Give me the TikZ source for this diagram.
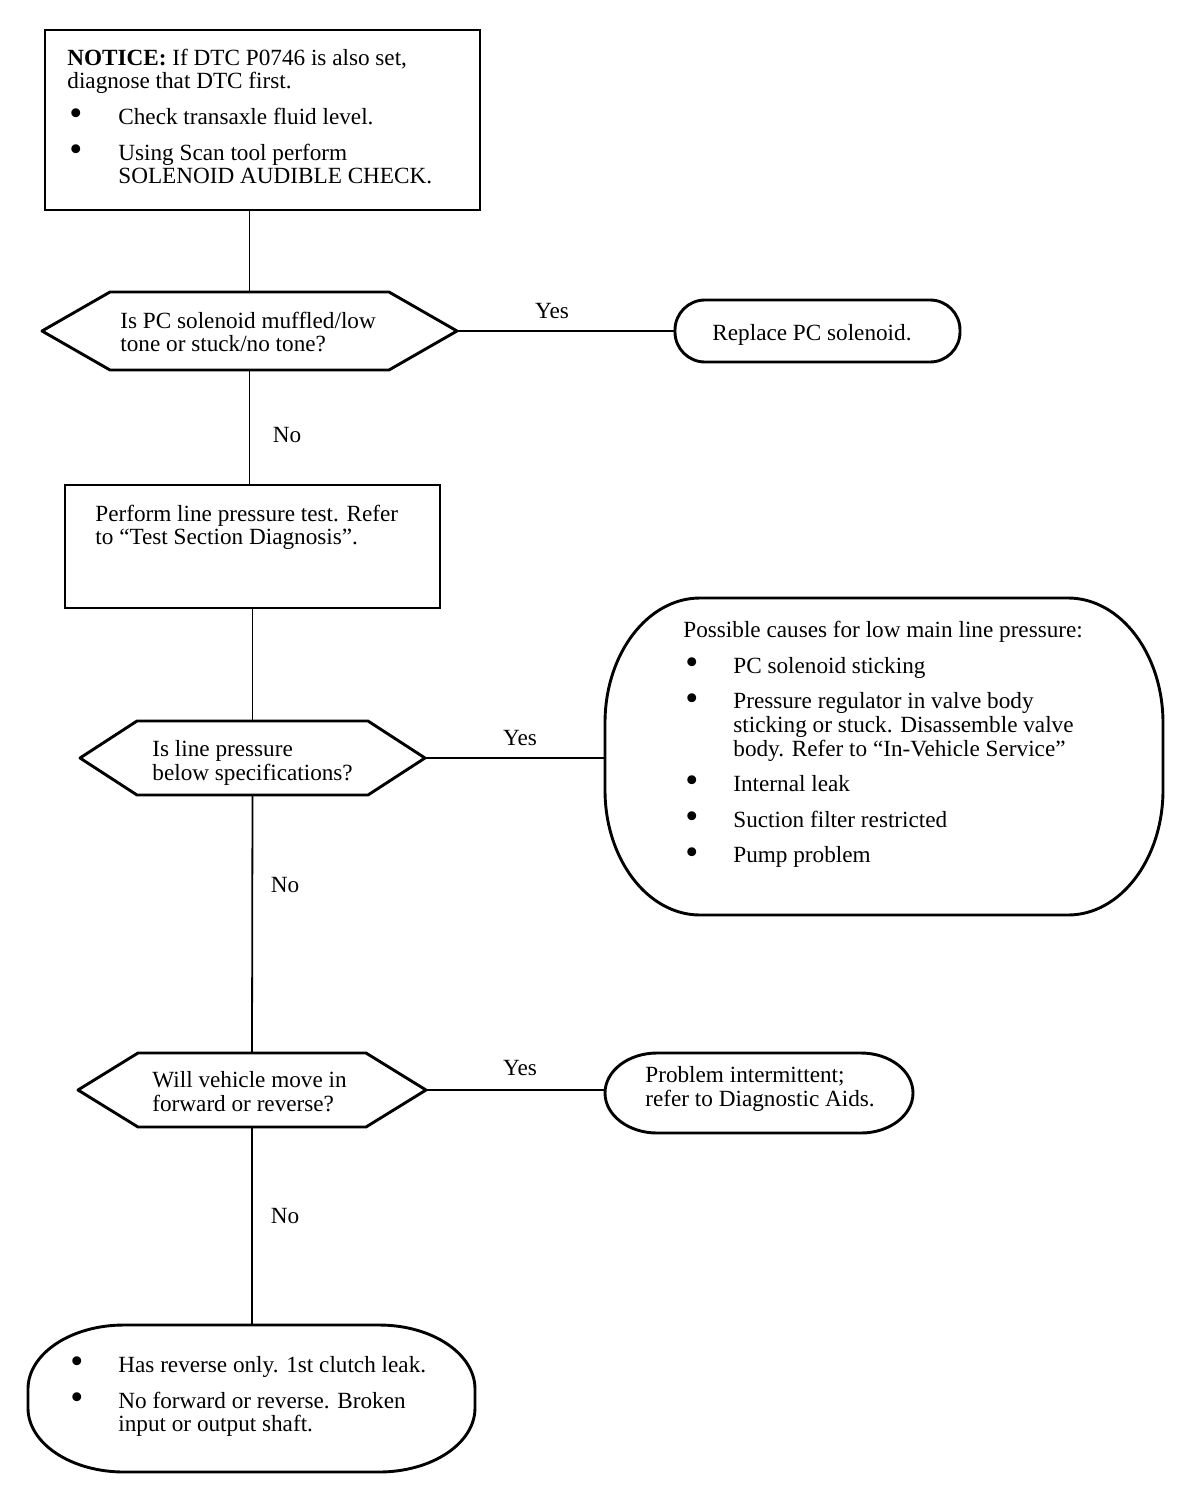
\documentclass[tikz,border=0pt]{standalone}
\usepackage{fontspec}
\setmainfont{Liberation Serif}
\newcommand\ovalframe[3]{\draw[shapeline] ([xshift=#2]#1.north west) -- ([xshift=-#2]#1.north east) arc[start angle=90,end angle=0,x radius=#2,y radius=#3] -- ([yshift=#3]#1.south east) arc[start angle=0,end angle=-90,x radius=#2,y radius=#3] -- ([xshift=#2]#1.south west) arc[start angle=-90,end angle=-180,x radius=#2,y radius=#3] -- ([yshift=-#3]#1.north west) arc[start angle=180,end angle=90,x radius=#2,y radius=#3] -- cycle;}
\newcommand\hexframe[2]{\draw[shapeline] (#1.west) -- ([xshift=#2]#1.north west) -- ([xshift=-#2]#1.north east) -- (#1.east) -- ([xshift=-#2]#1.south east) -- ([xshift=#2]#1.south west) -- cycle;}
\newcommand\bitem[2]{\makebox[#1][l]{\hspace{1pt}\raisebox{-0.6pt}{\scalebox{1.6}{\textbullet}}}#2}
\begin{document}
\begin{tikzpicture}[x=0.5pt,y=-0.5pt,
  shapeline/.style={line width=1.45pt, line join=round},
  conn/.style={line width=0.9pt},
  frame/.style={inner sep=0pt, outer sep=0pt, draw=none},
  boxframe/.style={inner sep=0pt, outer sep=0pt, draw, line width=1.45pt},
  txt/.style={anchor=north west, inner sep=0pt, align=left, font=\fontsize{11.6}{11.8}\selectfont},
  lbl/.style={inner sep=0pt, font=\fontsize{11.6}{11.8}\selectfont}]
\useasboundingbox[fill=white] (0,0) rectangle (1200,1488);

% frames
\node[boxframe, minimum width=217.5pt, minimum height=90pt] (b1) at (262.5,120) {};
\node[frame, minimum width=207.5pt, minimum height=39pt] (d1) at (249.5,331) {};
\node[boxframe, rounded corners=15pt, minimum width=142.5pt, minimum height=31pt] (r1) at (817.5,331) {};
\node[boxframe, minimum width=187.5pt, minimum height=61.5pt] (b2) at (252.5,546.5) {};
\node[frame, minimum width=172.5pt, minimum height=37pt] (d2) at (252.5,758) {};
\node[frame, minimum width=279pt, minimum height=158.5pt] (c1) at (884,756.5) {};
\node[frame, minimum width=174pt, minimum height=37pt] (d3) at (252,1090) {};
\node[frame, minimum width=154pt, minimum height=40pt] (r2) at (759,1093) {};
\node[frame, minimum width=223.5pt, minimum height=73.5pt] (b3) at (251.5,1398.5) {};

\hexframe{d1}{34pt}
\hexframe{d2}{28.5pt}
\hexframe{d3}{30pt}
\ovalframe{c1}{47.5pt}{62.5pt}
\ovalframe{r2}{26pt}{20pt}
\ovalframe{b3}{48pt}{32pt}

% texts
\node[txt] (t1) at (67,48.5) {\textbf{NOTICE:} If DTC P0746 is also set,\\
diagnose that DTC first.\\[6pt]
\bitem{25.5pt}{Check transaxle fluid level.}\\[6pt]
\bitem{25.5pt}{Using Scan tool perform}\\
\hspace*{25.5pt}SOLENOID AUDIBLE CHECK.};
\node[txt] (t2) at (120,311.5) {Is PC solenoid muffled/low\\tone or stuck/no tone?};
\node[lbl, anchor=base] (t3) at (812,340) {Replace PC solenoid.};
\node[txt] (t4) at (95,504.5) {Perform line pressure test. Refer\\to “Test Section Diagnosis”.};
\node[txt] (t5) at (152,740) {Is line pressure\\below specifications?};
\node[txt] (t6) at (683,621) {Possible causes for low main line pressure:\\[6pt]
\bitem{25pt}{PC solenoid sticking}\\[6pt]
\bitem{25pt}{Pressure regulator in valve body}\\
\hspace*{25pt}sticking or stuck. Disassemble valve\\
\hspace*{25pt}body. Refer to “In-Vehicle Service”\\[6pt]
\bitem{25pt}{Internal leak}\\[6pt]
\bitem{25pt}{Suction filter restricted}\\[6pt]
\bitem{25pt}{Pump problem}};
\node[txt] (t7) at (152,1071) {Will vehicle move in\\forward or reverse?};
\node[txt] (t8) at (645,1066) {Problem intermittent;\\refer to Diagnostic Aids.};
\node[txt] (t9) at (68,1356) {\bitem{25pt}{Has reverse only. 1st clutch leak.}\\[6pt]
\bitem{25pt}{No forward or reverse. Broken}\\
\hspace*{25pt}input or output shaft.};

% connectors
\draw[conn] (d1.north |- b1.south) -- (d1.north);
\draw[conn] (d1.east) -- (d1.east -| r1.west);
\draw[conn] (d1.south) -- (d1.south |- b2.north);
\draw[conn] (d2.north |- b2.south) -- (d2.north);
\draw[conn] (d2.east) -- (d2.east -| c1.west);
\draw[conn] (d2.south) -- (d3.north);
\draw[conn] (d3.east) -- (d3.east -| r2.west);
\draw[conn] (d3.south) -- (d3.south |- b3.north);

% labels
\node[lbl] (y1) at (552,311) {Yes};
\node[lbl] (n1) at (287,435) {No};
\node[lbl] (y2) at (520,738) {Yes};
\node[lbl] (n2) at (285,885) {No};
\node[lbl] (y3) at (520,1068) {Yes};
\node[lbl] (n3) at (285,1216) {No};
\end{tikzpicture}
\end{document}
